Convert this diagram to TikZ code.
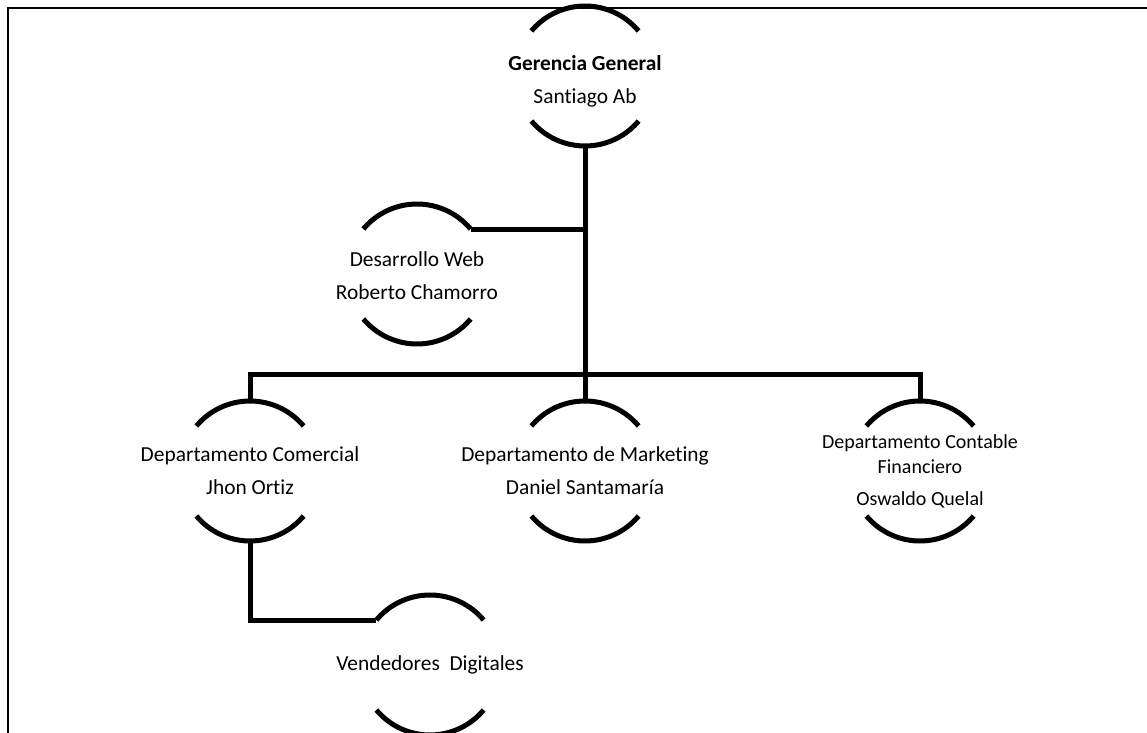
\documentclass[tikz,border=0pt]{standalone}
\usepackage{fontspec}
\setmainfont{Carlito}[Ligatures=NoCommon]
\usetikzlibrary{positioning}
\tikzset{
    unit/.style={circle, minimum size=70pt, inner sep=0pt, outer sep=0pt},
    caption/.style={align=center, font=\fontsize{10.7}{13.3}\selectfont},
    shrunk caption/.style={caption, font=\fontsize{10}{12.5}\selectfont},
    rim/.style={line width=2.5pt},
    link/.style={line width=2.5pt},
    frame/.style={line width=1.3pt}
}
\newcommand{\cutarcs}[1]{%
    \draw[rim] (#1.40) arc[start angle=40, end angle=140, radius=35pt];
    \draw[rim] (#1.220) arc[start angle=220, end angle=320, radius=35pt];}

\begin{document}
\begin{tikzpicture}[x=0.5pt, y=-0.5pt, on grid]
\useasboundingbox (0,0) rectangle (1147,733);
\draw[frame] (8,733) -- (8,8) -- (1147,8);

\node[unit, label={[caption, name=gg-text, yshift=-2.5pt]center:{\textbf{Gerencia General}\\[3.2pt] Santiago Ab}}] (gg) at (585,76) {};
\node[unit, below left=99pt and 84pt of gg,
    label={[caption, name=dw-text, yshift=-1pt]center:{Desarrollo Web\\[3.2pt] Roberto Chamorro}}] (dw) {};
\node[unit, below=197.5pt of gg,
    label={[caption, name=dm-text]center:{Departamento de Marketing\\[3.2pt] Daniel Santamaría}}] (dm) {};
\node[unit, left=167.5pt of dm,
    label={[caption, name=dc-text]center:{Departamento Comercial\\[3.2pt] Jhon Ortiz}}] (dc) {};
\node[unit, right=167.5pt of dm,
    label={[shrunk caption, name=dcf-text]center:{Departamento Contable\\ Financiero\\[3.5pt] Oswaldo Quelal}}] (dcf) {};
\node[unit, below right=97pt and 90pt of dc,
    label={[caption, name=vd-text]center:{Vendedores\ \ Digitales}}] (vd) {};

\draw[link] (gg.south) -- (dm.north);
\draw[link] (dw.40) -- (dw.40 -| gg.south);
\draw[link] (dc.north) -- ++(0,-27) -| (dcf.north);
\draw[link] (dc.south) |- (vd.140);

\cutarcs{gg}
\cutarcs{dw}
\cutarcs{dm}
\cutarcs{dc}
\cutarcs{dcf}
\cutarcs{vd}
\end{tikzpicture}
\end{document}
